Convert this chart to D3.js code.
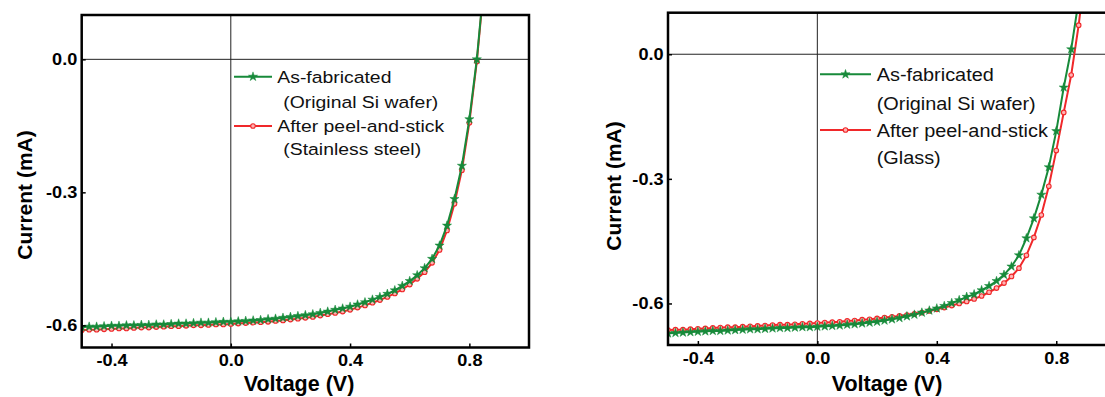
<!DOCTYPE html>
<html>
<head>
<meta charset="utf-8">
<script src="https://cdn.jsdelivr.net/npm/d3@7"></script>
<style>
  body { margin: 0; background: #fff; }
  svg { display: block; font-family: "Liberation Sans", Arial, sans-serif; }
</style>
</head>
<body>
<svg id="chart" width="1105" height="397"></svg>
<script>
// voltage sweep (V), shared by all four curves
const volts = [-0.5, -0.475, -0.45, -0.425, -0.4, -0.375, -0.35, -0.325, -0.3, -0.275,
  -0.25, -0.225, -0.2, -0.175, -0.15, -0.125, -0.1, -0.075, -0.05, -0.025,
  0, 0.025, 0.05, 0.075, 0.1, 0.125, 0.15, 0.175, 0.2, 0.225,
  0.25, 0.275, 0.3, 0.325, 0.35, 0.375, 0.4, 0.425, 0.45, 0.475,
  0.5, 0.525, 0.55, 0.575, 0.6, 0.625, 0.65, 0.675, 0.7, 0.725,
  0.75, 0.775, 0.8, 0.825, 0.85, 0.875, 0.9];

// left panel: stainless steel (mA)
const steelAsFab = [-0.604, -0.603, -0.603, -0.602, -0.601, -0.601, -0.600, -0.600, -0.599, -0.599,
  -0.598, -0.598, -0.597, -0.596, -0.596, -0.595, -0.594, -0.594, -0.593, -0.592,
  -0.592, -0.591, -0.590, -0.589, -0.588, -0.586, -0.585, -0.583, -0.581, -0.579,
  -0.577, -0.575, -0.572, -0.569, -0.565, -0.562, -0.558, -0.553, -0.548, -0.542,
  -0.536, -0.529, -0.521, -0.511, -0.500, -0.487, -0.471, -0.450, -0.420, -0.375,
  -0.315, -0.240, -0.135, 0.000, 0.180, 0.400, 0.700];
const steelPeeled = [-0.611, -0.610, -0.610, -0.609, -0.608, -0.607, -0.607, -0.606, -0.605, -0.605,
  -0.604, -0.603, -0.602, -0.602, -0.601, -0.600, -0.600, -0.599, -0.598, -0.598,
  -0.597, -0.596, -0.595, -0.594, -0.593, -0.592, -0.590, -0.589, -0.587, -0.585,
  -0.583, -0.581, -0.578, -0.575, -0.572, -0.569, -0.565, -0.560, -0.555, -0.549,
  -0.543, -0.536, -0.528, -0.519, -0.508, -0.495, -0.480, -0.459, -0.430, -0.386,
  -0.326, -0.250, -0.143, -0.005, 0.175, 0.400, 0.700];

// right panel: glass (mA)
const glassAsFab = [-0.672, -0.671, -0.670, -0.669, -0.668, -0.667, -0.666, -0.666, -0.665, -0.664,
  -0.663, -0.662, -0.662, -0.661, -0.660, -0.659, -0.659, -0.658, -0.657, -0.657,
  -0.656, -0.655, -0.654, -0.653, -0.651, -0.650, -0.648, -0.646, -0.644, -0.641,
  -0.638, -0.635, -0.631, -0.627, -0.622, -0.617, -0.612, -0.606, -0.599, -0.592,
  -0.584, -0.578, -0.568, -0.558, -0.546, -0.531, -0.511, -0.484, -0.443, -0.395,
  -0.338, -0.272, -0.185, -0.080, 0.012, 0.130, 0.300];
const glassPeeled = [-0.664, -0.663, -0.663, -0.662, -0.661, -0.660, -0.659, -0.658, -0.657, -0.657,
  -0.656, -0.655, -0.654, -0.653, -0.652, -0.651, -0.651, -0.650, -0.649, -0.648,
  -0.647, -0.646, -0.645, -0.644, -0.642, -0.641, -0.639, -0.638, -0.636, -0.634,
  -0.632, -0.630, -0.628, -0.625, -0.622, -0.618, -0.614, -0.610, -0.605, -0.600,
  -0.595, -0.589, -0.582, -0.573, -0.563, -0.551, -0.535, -0.515, -0.484, -0.441,
  -0.387, -0.318, -0.232, -0.140, -0.050, 0.070, 0.220];

const xTicks = [-0.4, 0, 0.4, 0.8];
const xTickLabels = ["-0.4", "0.0", "0.4", "0.8"];
const yTicks = [0, -0.3, -0.6];
const yTickLabels = ["0.0", "-0.3", "-0.6"];

const legendSteel = ["As-fabricated", "(Original Si wafer)", "After peel-and-stick", "(Stainless steel)"];
const legendGlass = ["As-fabricated", "(Original Si wafer)", "After peel-and-stick", "(Glass)"];

const GREEN = "#178a3a";
const RED = "#f0282a";

const svg = d3.select("#chart");

function drawPanel(p) {
  const x = d3.scaleLinear().domain([-0.5, 1.0]).range([p.left, p.right]);
  const y = d3.scaleLinear().domain(p.yDomain).range([p.bottom, p.top]);
  const g = svg.append("g");

  g.append("clipPath").attr("id", p.id + "-clip")
    .append("rect")
    .attr("x", p.left).attr("y", p.top)
    .attr("width", p.right - p.left).attr("height", p.bottom - p.top);

  // zero reference lines
  g.append("line")
    .attr("x1", x(0)).attr("x2", x(0)).attr("y1", p.top).attr("y2", p.bottom)
    .attr("stroke", "#222").attr("stroke-width", 1);
  g.append("line")
    .attr("x1", p.left).attr("x2", p.right).attr("y1", y(0)).attr("y2", y(0))
    .attr("stroke", "#222").attr("stroke-width", 1);

  const plot = g.append("g").attr("clip-path", "url(#" + p.id + "-clip)");
  const line = d3.line().x((d, i) => x(volts[i])).y(d => y(d));

  const series = [
    { vals: p.peeled, color: RED, shape: "circle" },
    { vals: p.asFab, color: GREEN, shape: "star" }
  ];
  series.forEach(s => {
    plot.append("path").datum(s.vals)
      .attr("fill", "none").attr("stroke", s.color).attr("stroke-width", 2)
      .attr("d", line);
    drawMarkers(plot, s.vals.map((d, i) => [x(volts[i]), y(d)]), s);
  });

  // axes with inward ticks
  const xAxis = g.append("g")
    .attr("transform", "translate(0," + p.bottom + ")")
    .call(d3.axisBottom(x).tickValues(xTicks)
      .tickFormat((d, i) => xTickLabels[i]).tickSize(-4).tickPadding(7));
  const yAxis = g.append("g")
    .attr("transform", "translate(" + p.left + ",0)")
    .call(d3.axisLeft(y).tickValues(yTicks)
      .tickFormat((d, i) => yTickLabels[i]).tickSize(-4).tickPadding(4));
  [xAxis, yAxis].forEach(a => {
    a.select(".domain").remove();
    a.selectAll(".tick line").attr("stroke", "#000").attr("stroke-width", 1.5);
    a.selectAll(".tick text")
      .attr("fill", "#000")
      .style("font-size", "16.5px").style("font-weight", "bold")
      .attr("transform", "scale(1.1,1)");
  });

  // frame
  g.append("rect")
    .attr("x", p.left).attr("y", p.top)
    .attr("width", p.right - p.left).attr("height", p.bottom - p.top)
    .attr("fill", "none").attr("stroke", "#000").attr("stroke-width", 2.5);

  // axis titles
  g.append("text")
    .attr("x", p.xTitle[0]).attr("y", p.xTitle[1]).attr("dy", "0.36em")
    .attr("text-anchor", "middle")
    .style("font-size", "21.5px").style("font-weight", "bold")
    .text("Voltage (V)");
  g.append("text")
    .attr("transform", "translate(" + p.yTitle[0] + "," + p.yTitle[1] + ") rotate(-90)")
    .attr("dy", "0.36em").attr("text-anchor", "middle")
    .style("font-size", "21px").style("font-weight", "bold")
    .text("Current (mA)");

  // legend
  const L = p.legend;
  [[GREEN, "star", L.rows[0]], [RED, "circle", L.rows[2]]].forEach(([c, shape, ry]) => {
    g.append("line")
      .attr("x1", L.x1).attr("x2", L.x2).attr("y1", ry).attr("y2", ry)
      .attr("stroke", c).attr("stroke-width", 2);
    drawMarkers(g, [[(L.x1 + L.x2) / 2, ry]], { color: c, shape: shape });
  });
  p.labels.forEach((t, i) => {
    g.append("text")
      .attr("transform", "translate(" + L.tx[i] + "," + L.rows[i] + ") scale(" + L.sx + ",1)")
      .attr("dy", "0.36em")
      .style("font-size", L.size + "px")
      .attr("fill", "#111")
      .text(t);
  });
}

function drawMarkers(sel, pts, s) {
  if (s.shape === "star") {
    const sym = d3.symbol().type(d3.symbolStar).size(26);
    sel.selectAll(null).data(pts).join("path")
      .attr("transform", d => "translate(" + d[0] + "," + d[1] + ")")
      .attr("d", sym).attr("fill", s.color).attr("stroke", s.color).attr("stroke-width", 0.5);
  } else {
    sel.selectAll(null).data(pts).join("circle")
      .attr("cx", d => d[0]).attr("cy", d => d[1]).attr("r", 2.3)
      .attr("fill", "#ffb3b3").attr("stroke", s.color).attr("stroke-width", 1.1);
  }
}

drawPanel({
  id: "steel", left: 81.7, right: 529, top: 15, bottom: 347.5,
  yDomain: [-0.65, 0.1],
  asFab: steelAsFab, peeled: steelPeeled,
  xTitle: [299, 383], yTitle: [24, 195],
  labels: legendSteel,
  legend: { x1: 234, x2: 272, rows: [76.7, 101.7, 126, 149.3],
            tx: [277.3, 283.3, 277.3, 283.3], size: 17, sx: 1.14 }
});

drawPanel({
  id: "glass", left: 668, right: 1116, top: 12.7, bottom: 345,
  yDomain: [-0.7, 0.1],
  asFab: glassAsFab, peeled: glassPeeled,
  xTitle: [887, 383], yTitle: [613, 186],
  labels: legendGlass,
  legend: { x1: 820, x2: 871, rows: [74.3, 103.3, 130, 157.3],
            tx: [876.7, 876.7, 876.7, 876.7], size: 18.5, sx: 1.075 }
});
</script>
</body>
</html>
